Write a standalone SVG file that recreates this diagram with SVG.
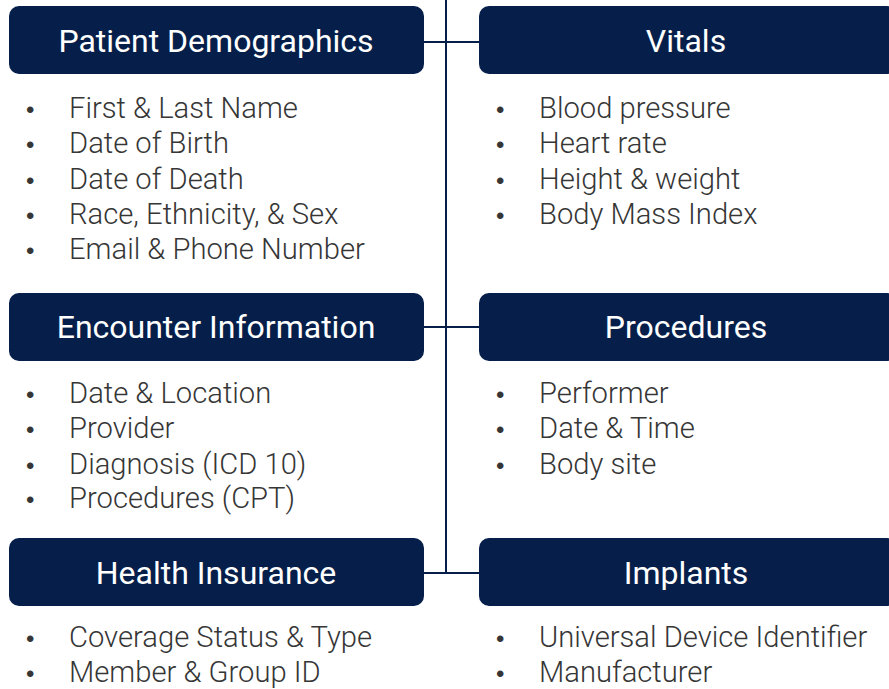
<svg xmlns="http://www.w3.org/2000/svg" width="889" height="689" viewBox="0 0 889 689">
<style>
.box{fill:#061f4a}
.hd{font-family:Roboto,"Liberation Sans",sans-serif;font-weight:400;font-size:32px;fill:#ffffff;text-anchor:middle}
.it{font-family:"Roboto Light",Roboto,"Liberation Sans",sans-serif;font-weight:300;font-size:29.2px;fill:#363636}
.bu{font-family:"Liberation Sans",sans-serif;font-size:24px;fill:#363636}
.conn{stroke:#061f4a;stroke-width:2;fill:none}
</style>
<rect width="889" height="689" fill="#ffffff"/>
<g id="connectors">
<line class="conn" x1="446" y1="0" x2="446" y2="573"/>
<line class="conn" x1="424" y1="42" x2="479" y2="42"/>
<line class="conn" x1="424" y1="327" x2="479" y2="327"/>
<line class="conn" x1="424" y1="573" x2="479" y2="573"/>
</g>
<g id="patient-demographics">
<rect class="box" x="9" y="6" width="415" height="68" rx="10"/>
<text class="hd" x="216" y="52">Patient Demographics</text>
<g class="bu">
<text x="26" y="118">•</text><text x="26" y="153">•</text><text x="26" y="189">•</text><text x="26" y="224">•</text><text x="26" y="259">•</text>
</g>
<g class="it">
<text x="69" y="118">First &amp; Last Name</text>
<text x="69" y="153">Date of Birth</text>
<text x="69" y="189">Date of Death</text>
<text x="69" y="224">Race, Ethnicity, &amp; Sex</text>
<text x="69" y="259">Email &amp; Phone Number</text>
</g>
</g>
<g id="vitals">
<rect class="box" x="479" y="6" width="418" height="68" rx="10"/>
<text class="hd" x="686" y="52">Vitals</text>
<g class="bu">
<text x="496" y="118">•</text><text x="496" y="153">•</text><text x="496" y="189">•</text><text x="496" y="224">•</text>
</g>
<g class="it">
<text x="539" y="118">Blood pressure</text>
<text x="539" y="153">Heart rate</text>
<text x="539" y="189">Height &amp; weight</text>
<text x="539" y="224">Body Mass Index</text>
</g>
</g>
<g id="encounter-information">
<rect class="box" x="9" y="293" width="415" height="68" rx="10"/>
<text class="hd" x="216" y="338">Encounter Information</text>
<g class="bu">
<text x="26" y="403">•</text><text x="26" y="438">•</text><text x="26" y="474">•</text><text x="26" y="508">•</text>
</g>
<g class="it">
<text x="69" y="403">Date &amp; Location</text>
<text x="69" y="438">Provider</text>
<text x="69" y="474">Diagnosis (ICD 10)</text>
<text x="69" y="508">Procedures (CPT)</text>
</g>
</g>
<g id="procedures">
<rect class="box" x="479" y="293" width="418" height="68" rx="10"/>
<text class="hd" x="686" y="338">Procedures</text>
<g class="bu">
<text x="496" y="403">•</text><text x="496" y="438">•</text><text x="496" y="474">•</text>
</g>
<g class="it">
<text x="539" y="403">Performer</text>
<text x="539" y="438">Date &amp; Time</text>
<text x="539" y="474">Body site</text>
</g>
</g>
<g id="health-insurance">
<rect class="box" x="9" y="538" width="415" height="68" rx="10"/>
<text class="hd" x="216" y="584">Health Insurance</text>
<g class="bu">
<text x="26" y="647">•</text><text x="26" y="682">•</text>
</g>
<g class="it">
<text x="69" y="647">Coverage Status &amp; Type</text>
<text x="69" y="682">Member &amp; Group ID</text>
</g>
</g>
<g id="implants">
<rect class="box" x="479" y="538" width="418" height="68" rx="10"/>
<text class="hd" x="686" y="584">Implants</text>
<g class="bu">
<text x="496" y="647">•</text><text x="496" y="682">•</text>
</g>
<g class="it">
<text x="539" y="647">Universal Device Identifier</text>
<text x="539" y="682">Manufacturer</text>
</g>
</g>
</svg>
